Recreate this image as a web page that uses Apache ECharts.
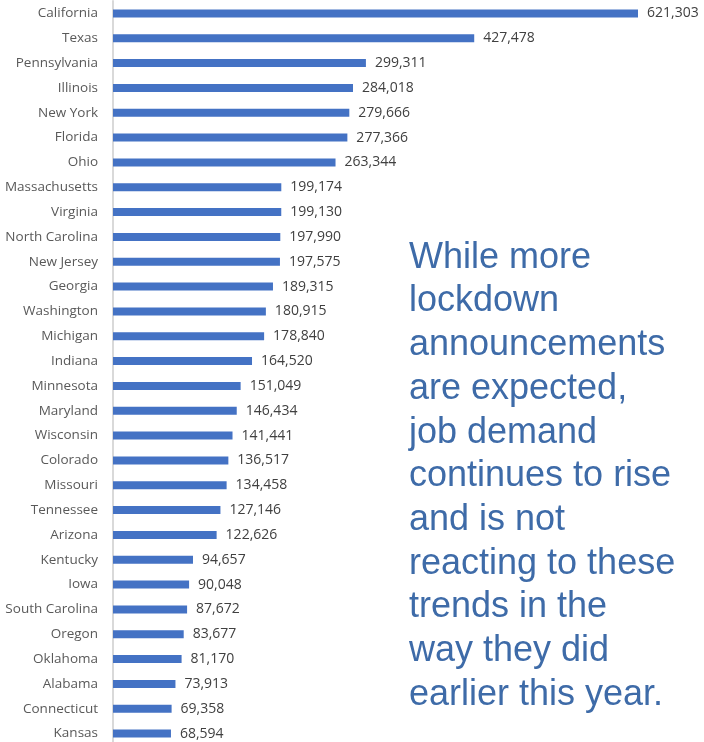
<!DOCTYPE html>
<html><head><meta charset="utf-8">
<script src="https://cdn.jsdelivr.net/npm/echarts@6/dist/echarts.min.js"></script>
<style>html,body{margin:0;padding:0;background:#fff}#c{width:704px;height:742px}</style>
</head><body><div id="c"></div>
<script>
const states = ["California","Texas","Pennsylvania","Illinois","New York","Florida","Ohio","Massachusetts","Virginia","North Carolina","New Jersey","Georgia","Washington","Michigan","Indiana","Minnesota","Maryland","Wisconsin","Colorado","Missouri","Tennessee","Arizona","Kentucky","Iowa","South Carolina","Oregon","Oklahoma","Alabama","Connecticut","Kansas"];
const jobs = [621303,427478,299311,284018,279666,277366,263344,199174,199130,197990,197575,189315,180915,178840,164520,151049,146434,141441,136517,134458,127146,122626,94657,90048,87672,83677,81170,73913,69358,68594];
const note = "While more\nlockdown\nannouncements\nare expected,\njob demand\ncontinues to rise\nand is not\nreacting to these\ntrends in the\nway they did\nearlier this year.";

const chart = echarts.init(document.getElementById('c'), null, {renderer:'canvas'});
chart.setOption({
  animation:false,
  grid:{left:113, top:1, width:526, height:745, outerBoundsMode:'none', containLabel:false},
  xAxis:{type:'value', min:0, max:621303*526/525, show:false},
  yAxis:{type:'category', inverse:true, data:states,
    axisLine:{show:true, lineStyle:{color:'#d9d9d9', width:2}},
    axisTick:{show:false},
    axisLabel:{color:'#595959', fontFamily:'Open Sans', fontSize:13.5, margin:15}},
  series:[{type:'bar', data:jobs, barWidth:8,
    itemStyle:{color:'#4472C4'},
    label:{show:true, position:'right', distance:9, color:'#404040', fontFamily:'Open Sans', fontSize:14,
      formatter:p=>p.value.toLocaleString('en-US')}}],
  graphic:[{type:'text', left:409, top:236,
    style:{text:note, fill:'#3E6BA8', font:'36px "Liberation Sans"', lineHeight:43.7}}]
});
</script></body></html>
